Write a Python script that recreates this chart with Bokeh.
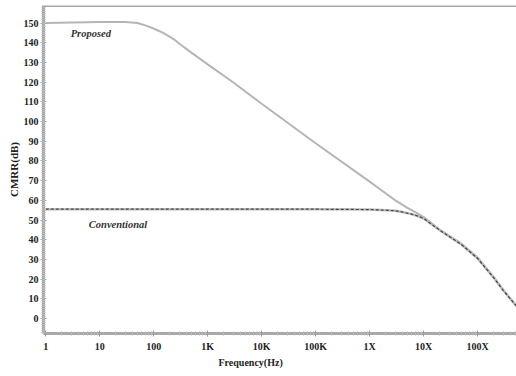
from bokeh.plotting import figure
from bokeh.models import FixedTicker, Span, Title, Range1d
from bokeh.core.properties import value
from bokeh.embed import file_html
from bokeh.resources import INLINE

# ---- data ----
freq_proposed = [1, 10, 30, 50, 70, 100, 120, 150, 200, 250, 300, 500, 1e3, 3e3, 1e4, 1e5,
                 1e6, 2e6, 3e6, 5e6, 7e6, 1e7, 2e7, 5e7, 1e8, 2e8, 3e8, 5.25e8]
cmrr_proposed = [150, 150.5, 150.5, 150, 148.8, 147.2, 146.2, 145, 143, 141.3, 139.5, 135,
                 129, 119.8, 109, 89, 69.5, 63.5, 60, 56.2, 54, 51.5, 45, 38, 31, 21, 14.5, 6.5]

freq_conventional = [1, 1e5, 1e6, 2e6, 3e6, 4e6, 6e6, 8e6, 1e7, 2e7, 5e7, 1e8, 2e8, 3e8, 5.25e8]
cmrr_conventional = [55.5, 55.5, 55.3, 55, 54.7, 54.1, 53, 51.9, 50.8, 44.8, 37.6, 30.5,
                     20.6, 14.2, 6.3]

x_ticks = [1, 10, 100, 1e3, 1e4, 1e5, 1e6, 1e7, 1e8]
x_tick_labels = ["1", "10", "100", "1K", "10K", "100K", "1X", "10X", "100X"]
y_ticks = list(range(0, 151, 10))

FONT = "Liberation Serif"
AXIS_GREY = "#a9a9a9"

p = figure(width=516, height=376, x_axis_type="log", output_backend="svg",
           toolbar_location=None,
           x_range=Range1d(0.91, 5.25e8), y_range=Range1d(-7.6, 158.9),
           min_border_left=43, min_border_right=0, min_border_top=5, min_border_bottom=43)

p.outline_line_color = None
p.grid.visible = False
p.background_fill_color = "white"
p.border_fill_color = "white"

minor_x = []
for d in x_ticks:
    for m in range(2, 10):
        minor_x.append(d * m)
p.xaxis.ticker = FixedTicker(ticks=x_ticks, minor_ticks=minor_x)
p.xaxis.major_label_overrides = {t: l for t, l in zip(x_ticks, x_tick_labels)}

minor_y = [v for v in range(-7, 159)]
p.yaxis.ticker = FixedTicker(ticks=y_ticks, minor_ticks=minor_y)

for ax in (p.xaxis[0], p.yaxis[0]):
    ax.axis_line_color = AXIS_GREY
    ax.axis_line_width = 3
    ax.major_tick_line_color = "#9a9a9a"
    ax.minor_tick_line_color = "#b8b8b8"
    ax.major_tick_in = 3
    ax.major_tick_out = 3
    ax.minor_tick_in = 2
    ax.minor_tick_out = 2
    ax.major_label_text_font = FONT
    ax.major_label_text_font_style = "bold"
    ax.major_label_text_font_size = "10px"
    ax.major_label_text_color = "#222222"

p.yaxis.major_label_standoff = 2
p.xaxis.major_label_standoff = 4

p.yaxis.axis_label = "CMRR(dB)"
p.yaxis.axis_label_text_font = FONT
p.yaxis.axis_label_text_font_style = "bold"
p.yaxis.axis_label_text_font_size = "11px"
p.yaxis.axis_label_text_color = "#222222"
p.yaxis.axis_label_standoff = 1

xt = Title(text="Frequency(Hz)", align="left", offset=175, standoff=1, text_font=FONT,
           text_font_style="bold", text_font_size="10px", text_color="#222222")
p.add_layout(xt, "below")

p.add_layout(Span(location=158.9, dimension="width", line_color=AXIS_GREY, line_width=3))

p.line(freq_proposed, cmrr_proposed, line_color="#b5b5b5", line_width=2)
p.line(freq_conventional, cmrr_conventional, line_color="#bdbdbd", line_width=2.5)
p.line(freq_conventional, cmrr_conventional, line_color="#444444", line_width=1.2,
       line_dash="3 2")

p.text(x=[2.9], y=[144.7], text=["Proposed"], text_font=value(FONT),
       text_font_style="bold italic", text_font_size="10.5px", text_color="#333333",
       text_align="left", text_baseline="middle")
p.text(x=[6.3], y=[47.7], text=["Conventional"], text_font=value(FONT),
       text_font_style="bold italic", text_font_size="10.5px", text_color="#333333",
       text_align="left", text_baseline="middle")

open("out.html", "w").write(file_html(p, INLINE))
